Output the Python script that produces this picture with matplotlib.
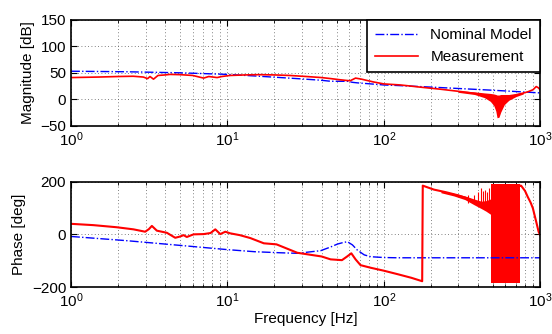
import matplotlib
matplotlib.use('Agg')
import matplotlib.pyplot as plt

# nominal model (blue dash-dot)
nom_f = [1, 2.27, 5, 10, 15, 21.9, 28, 39.5, 45.7, 50.5, 55, 58.5, 63, 67.8, 75, 82.6, 100, 122, 200, 500, 1000]
nom_mag = [53, 52, 50, 47, 44, 41, 39, 36, 34, 34, 34, 34, 32, 31, 30, 29, 27, 26, 23, 17, 12]
nom_ph = [-8, -24, -42, -58, -66, -70, -72, -62, -48, -37, -31, -28, -40, -60, -78, -85, -88, -89, -89, -89, -89]

# measurement magnitude
mag_f = [1, 1.5, 2, 2.5, 2.9, 3.09, 3.2, 3.37, 3.6, 4.0, 4.3, 5, 6, 7.05, 7.6, 8.6, 9.2, 10.4, 13, 16,
         20, 25, 32, 40, 46, 52, 58, 61, 66, 72, 85, 100, 128, 170, 230, 300, 344, 400, 437, 480, 510,
         535, 560, 600, 652, 720, 833, 900, 943, 970, 1000]
mag_db = [41, 42, 43, 43.5, 42, 39, 43, 38, 45, 46, 47, 46.5, 45, 40, 43, 41, 43, 45, 46, 46.5,
          46, 45, 43, 41, 39, 37, 35.5, 35, 40, 38, 33, 29, 27, 23, 19, 15, 13, 10, 7, 3, -2,
          -8, -3, 2, 5, 9, 14, 18, 24, 22, 18]
mag_noise_f = [300, 380, 440, 480, 505, 520, 530, 545, 560, 590, 630, 700, 780]
mag_noise_hi = [16, 14, 12, 11, 10, 9, 8, 8, 9, 9, 9, 11, 13]
mag_noise_lo = [13, 9, 3, -4, -12, -22, -35, -34, -24, -10, -2, 5, 10]

# measurement phase
ph_f = [1, 1.39, 1.96, 2.51, 2.98, 3.15, 3.29, 3.54, 4.1, 4.64, 5.0, 5.25, 5.5, 6.08, 7.05, 7.8,
        8.37, 9.0, 9.7, 10.4, 12, 14, 17.1, 20.6, 28, 40, 45.7, 54, 58, 62, 66, 71, 82.6, 100, 122,
        150, 176, 177.5, 209, 250, 300, 344, 379, 419, 485, 745, 755, 800, 833, 870, 898, 943, 977, 1000]
ph_deg = [40, 35, 27, 19, 10, 20, 32, 14, 6, -13, -8, -3, -10, 0, 1, 5,
          19, 1, 10, 4, -3, -14, -34, -38, -70, -84, -95, -98, -85, -72, -95, -117, -127, -138, -151,
          -165, -178, 185, 170, 160, 148, 136, 124, 112, 100, 185, 185, 165, 142, 120, 99, 48, 10, -3]
ph_noise_f = [232, 280, 330, 379, 420, 450, 485]
ph_noise_hi = [166, 156, 146, 134, 126, 128, 135]
ph_noise_lo = [158, 146, 132, 112, 98, 88, 75]
ph_spike_f = [345, 380, 400, 419, 430, 445, 460, 470]
ph_spike_top = [150, 148, 160, 176, 165, 170, 160, 175]
ph_band_f = [487, 745]
ph_band_lo = [-186, -186]
ph_band_hi = [190, 190]

plt.rcParams['font.family'] = ['Liberation Sans', 'DejaVu Sans']
plt.rcParams['mathtext.default'] = 'regular'
plt.rcParams['font.size'] = 10.5


def style_axes(ax):
    ax.set_xscale('log')
    ax.set_xlim(1, 1000)
    for s in ax.spines.values():
        s.set_linewidth(1.2)
    ax.tick_params(which='both', direction='in', top=True, right=True, labelsize=11)
    ax.tick_params(which='major', length=4, width=0.8)
    ax.tick_params(which='minor', length=2, width=0.6)
    grid_kw = dict(linestyle=(0, (1, 3)), color='0.35', linewidth=0.6)
    ax.grid(True, which='major', **grid_kw)
    ax.grid(True, which='minor', axis='x', **grid_kw)
    ax.set_axisbelow(True)


fig = plt.figure(figsize=(5.52, 3.34), dpi=100)
ax1 = fig.add_axes([0.1286, 0.6237, 0.850, 0.3166])
ax2 = fig.add_axes([0.1286, 0.1407, 0.850, 0.3153])

style_axes(ax1)
ax1.plot(nom_f, nom_mag, color='blue', linestyle='-.', linewidth=1, label='Nominal Model')
ax1.plot(mag_f, mag_db, color='red', linewidth=1.2, label='Measurement')
ax1.fill_between(mag_noise_f, mag_noise_lo, mag_noise_hi, color='red', linewidth=0)
ax1.set_ylim(-50, 150)
ax1.set_yticks([-50, 0, 50, 100, 150])
ax1.set_ylabel('Magnitude [dB]', fontsize=11)
leg = ax1.legend(loc='upper right', fancybox=False, framealpha=1, edgecolor='black',
                 borderaxespad=0, handlelength=2.8, fontsize=11, borderpad=0.55, labelspacing=0.5)
leg.get_frame().set_linewidth(1.2)

style_axes(ax2)
ax2.plot(nom_f, nom_ph, color='blue', linestyle='-.', linewidth=1)
ax2.plot(ph_f, ph_deg, color='red', linewidth=1.5)
ax2.fill_between(ph_noise_f, ph_noise_lo, ph_noise_hi, color='red', linewidth=0)
ax2.vlines(ph_spike_f, 120, ph_spike_top, color='red', linewidth=0.8)
ax2.fill_between(ph_band_f, ph_band_lo, ph_band_hi, color='red', linewidth=0)
ax2.set_ylim(-200, 200)
ax2.set_yticks([-200, 0, 200])
ax2.set_ylabel('Phase [deg]', fontsize=11)
ax2.set_xlabel('Frequency [Hz]', fontsize=11, labelpad=1)

fig.savefig('out.png', dpi=100)
